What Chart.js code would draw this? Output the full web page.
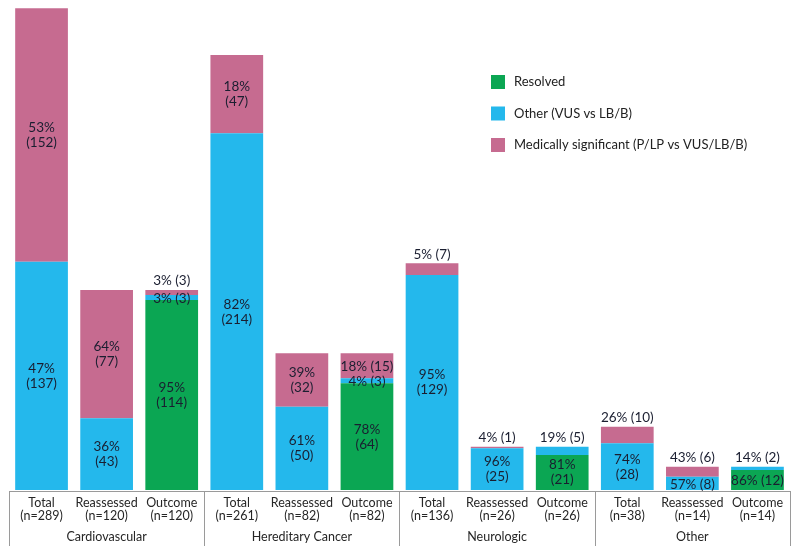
<!DOCTYPE html>
<html>
<head>
<meta charset="utf-8">
<script src="https://cdn.jsdelivr.net/npm/chart.js@4.4.1/dist/chart.umd.min.js"></script>
<style>
  html, body { margin: 0; padding: 0; background: #fff; }
  #wrap { width: 800px; height: 556px; position: relative; }
</style>
</head>
<body>
<div id="wrap"><canvas id="chart"></canvas></div>
<script>
// --- Data ---
const barNames = ['Total', 'Reassessed', 'Outcome', 'Total', 'Reassessed', 'Outcome',
                  'Total', 'Reassessed', 'Outcome', 'Total', 'Reassessed', 'Outcome'];
const barCounts = [289, 120, 120, 261, 82, 82, 136, 26, 26, 38, 14, 14];
const groupNames = ['Cardiovascular', 'Hereditary Cancer', 'Neurologic', 'Other'];

const resolved = [0, 0, 114, 0, 0, 64, 0, 0, 21, 0, 0, 12];
const otherVus = [137, 43, 3, 214, 50, 3, 129, 25, 5, 28, 8, 2];
const medSig   = [152, 77, 3, 47, 32, 15, 7, 1, 0, 10, 6, 0];

const seriesNames = ['Resolved', 'Other (VUS vs LB/B)', 'Medically significant (P/LP vs VUS/LB/B)'];
const seriesColors = ['#0ba653', '#24b8ec', '#c66b90'];

const FONT = 'Lato, "Open Sans", sans-serif';
const TEXT = '#1a1e30';

// --- Plugins ---
const barLabels = {
    id: 'barLabels',
    afterDatasetsDraw(chart) {
        const ctx = chart.ctx;
        ctx.save();
        ctx.font = `13.5px ${FONT}`;
        ctx.fillStyle = TEXT;
        ctx.textAlign = 'center';
        ctx.textBaseline = 'middle';
        const n = chart.data.labels.length;
        for (let i = 0; i < n; i++) {
            // top non-zero segment of this bar gets its label above when it is thin
            let topDs = -1;
            chart.data.datasets.forEach((ds, d) => { if (ds.data[i] > 0) topDs = d; });
            chart.data.datasets.forEach((ds, d) => {
                const v = ds.data[i];
                if (!v) return;
                const bar = chart.getDatasetMeta(d).data[i];
                const h = Math.abs(bar.base - bar.y);
                const pct = Math.round(v / barCounts[i] * 100) + '%';
                const cnt = '(' + v + ')';
                if (d === topDs && h < 20) {
                    ctx.fillText(pct + ' ' + cnt, bar.x, bar.y - 9);
                } else if (h >= 30) {
                    const cy = (bar.y + bar.base) / 2;
                    ctx.fillText(pct, bar.x, cy - 7.5);
                    ctx.fillText(cnt, bar.x, cy + 7.5);
                } else {
                    ctx.fillText(pct + ' ' + cnt, bar.x, (bar.y + bar.base) / 2 + 1);
                }
            });
        }
        ctx.restore();
    }
};

const groupAxis = {
    id: 'groupAxis',
    afterDraw(chart) {
        const ctx = chart.ctx;
        const x = chart.scales.x;
        const area = chart.chartArea;
        const yLine = area.bottom + 1;
        const step = x.getPixelForValue(1) - x.getPixelForValue(0);
        ctx.save();
        ctx.strokeStyle = '#9a9a9a';
        ctx.lineWidth = 1;
        ctx.beginPath();
        ctx.moveTo(area.left, yLine + 0.5);
        ctx.lineTo(area.right, yLine + 0.5);
        for (let g = 0; g <= groupNames.length; g++) {
            const px = Math.round(x.getPixelForValue(g * 3) - step / 2) + 0.5;
            ctx.moveTo(px, yLine);
            ctx.lineTo(px, yLine + 55);
        }
        ctx.stroke();

        ctx.fillStyle = '#262626';
        ctx.textAlign = 'center';
        ctx.textBaseline = 'middle';
        ctx.font = `12.5px ${FONT}`;
        barNames.forEach((name, i) => {
            const px = x.getPixelForValue(i);
            ctx.fillText(name, px, yLine + 12);
            ctx.fillText('(n=' + barCounts[i] + ')', px, yLine + 25);
        });
        groupNames.forEach((name, g) => {
            const px = x.getPixelForValue(g * 3 + 1);
            ctx.fillText(name, px, yLine + 46);
        });
        ctx.restore();
    }
};

const sideLegend = {
    id: 'sideLegend',
    afterDraw(chart) {
        const ctx = chart.ctx;
        ctx.save();
        ctx.font = `13px ${FONT}`;
        ctx.textBaseline = 'middle';
        ctx.textAlign = 'left';
        seriesNames.forEach((name, k) => {
            const cy = 82 + k * 31.5;
            ctx.fillStyle = seriesColors[k];
            ctx.fillRect(491, cy - 7, 14, 14);
            ctx.fillStyle = '#222';
            ctx.fillText(name, 514, cy);
        });
        ctx.restore();
    }
};

// --- Chart ---
const ctx = document.getElementById('chart').getContext('2d');
new Chart(ctx, {
    type: 'bar',
    data: {
        labels: barNames.map((n, i) => n + ' (n=' + barCounts[i] + ')'),
        datasets: [
            { label: seriesNames[0], data: resolved, backgroundColor: seriesColors[0] },
            { label: seriesNames[1], data: otherVus, backgroundColor: seriesColors[1] },
            { label: seriesNames[2], data: medSig, backgroundColor: seriesColors[2] }
        ]
    },
    options: {
        responsive: true,
        maintainAspectRatio: false,
        animation: false,
        layout: { padding: { left: 9, right: 10, top: 0, bottom: 66 } },
        datasets: { bar: { categoryPercentage: 1.0, barPercentage: 0.81, borderWidth: 0 } },
        plugins: { legend: { display: false }, tooltip: { enabled: false } },
        scales: {
            x: { stacked: true, display: false },
            y: { stacked: true, display: false, min: 0, max: 294 }
        }
    },
    plugins: [barLabels, groupAxis, sideLegend]
});
</script>
</body>
</html>
